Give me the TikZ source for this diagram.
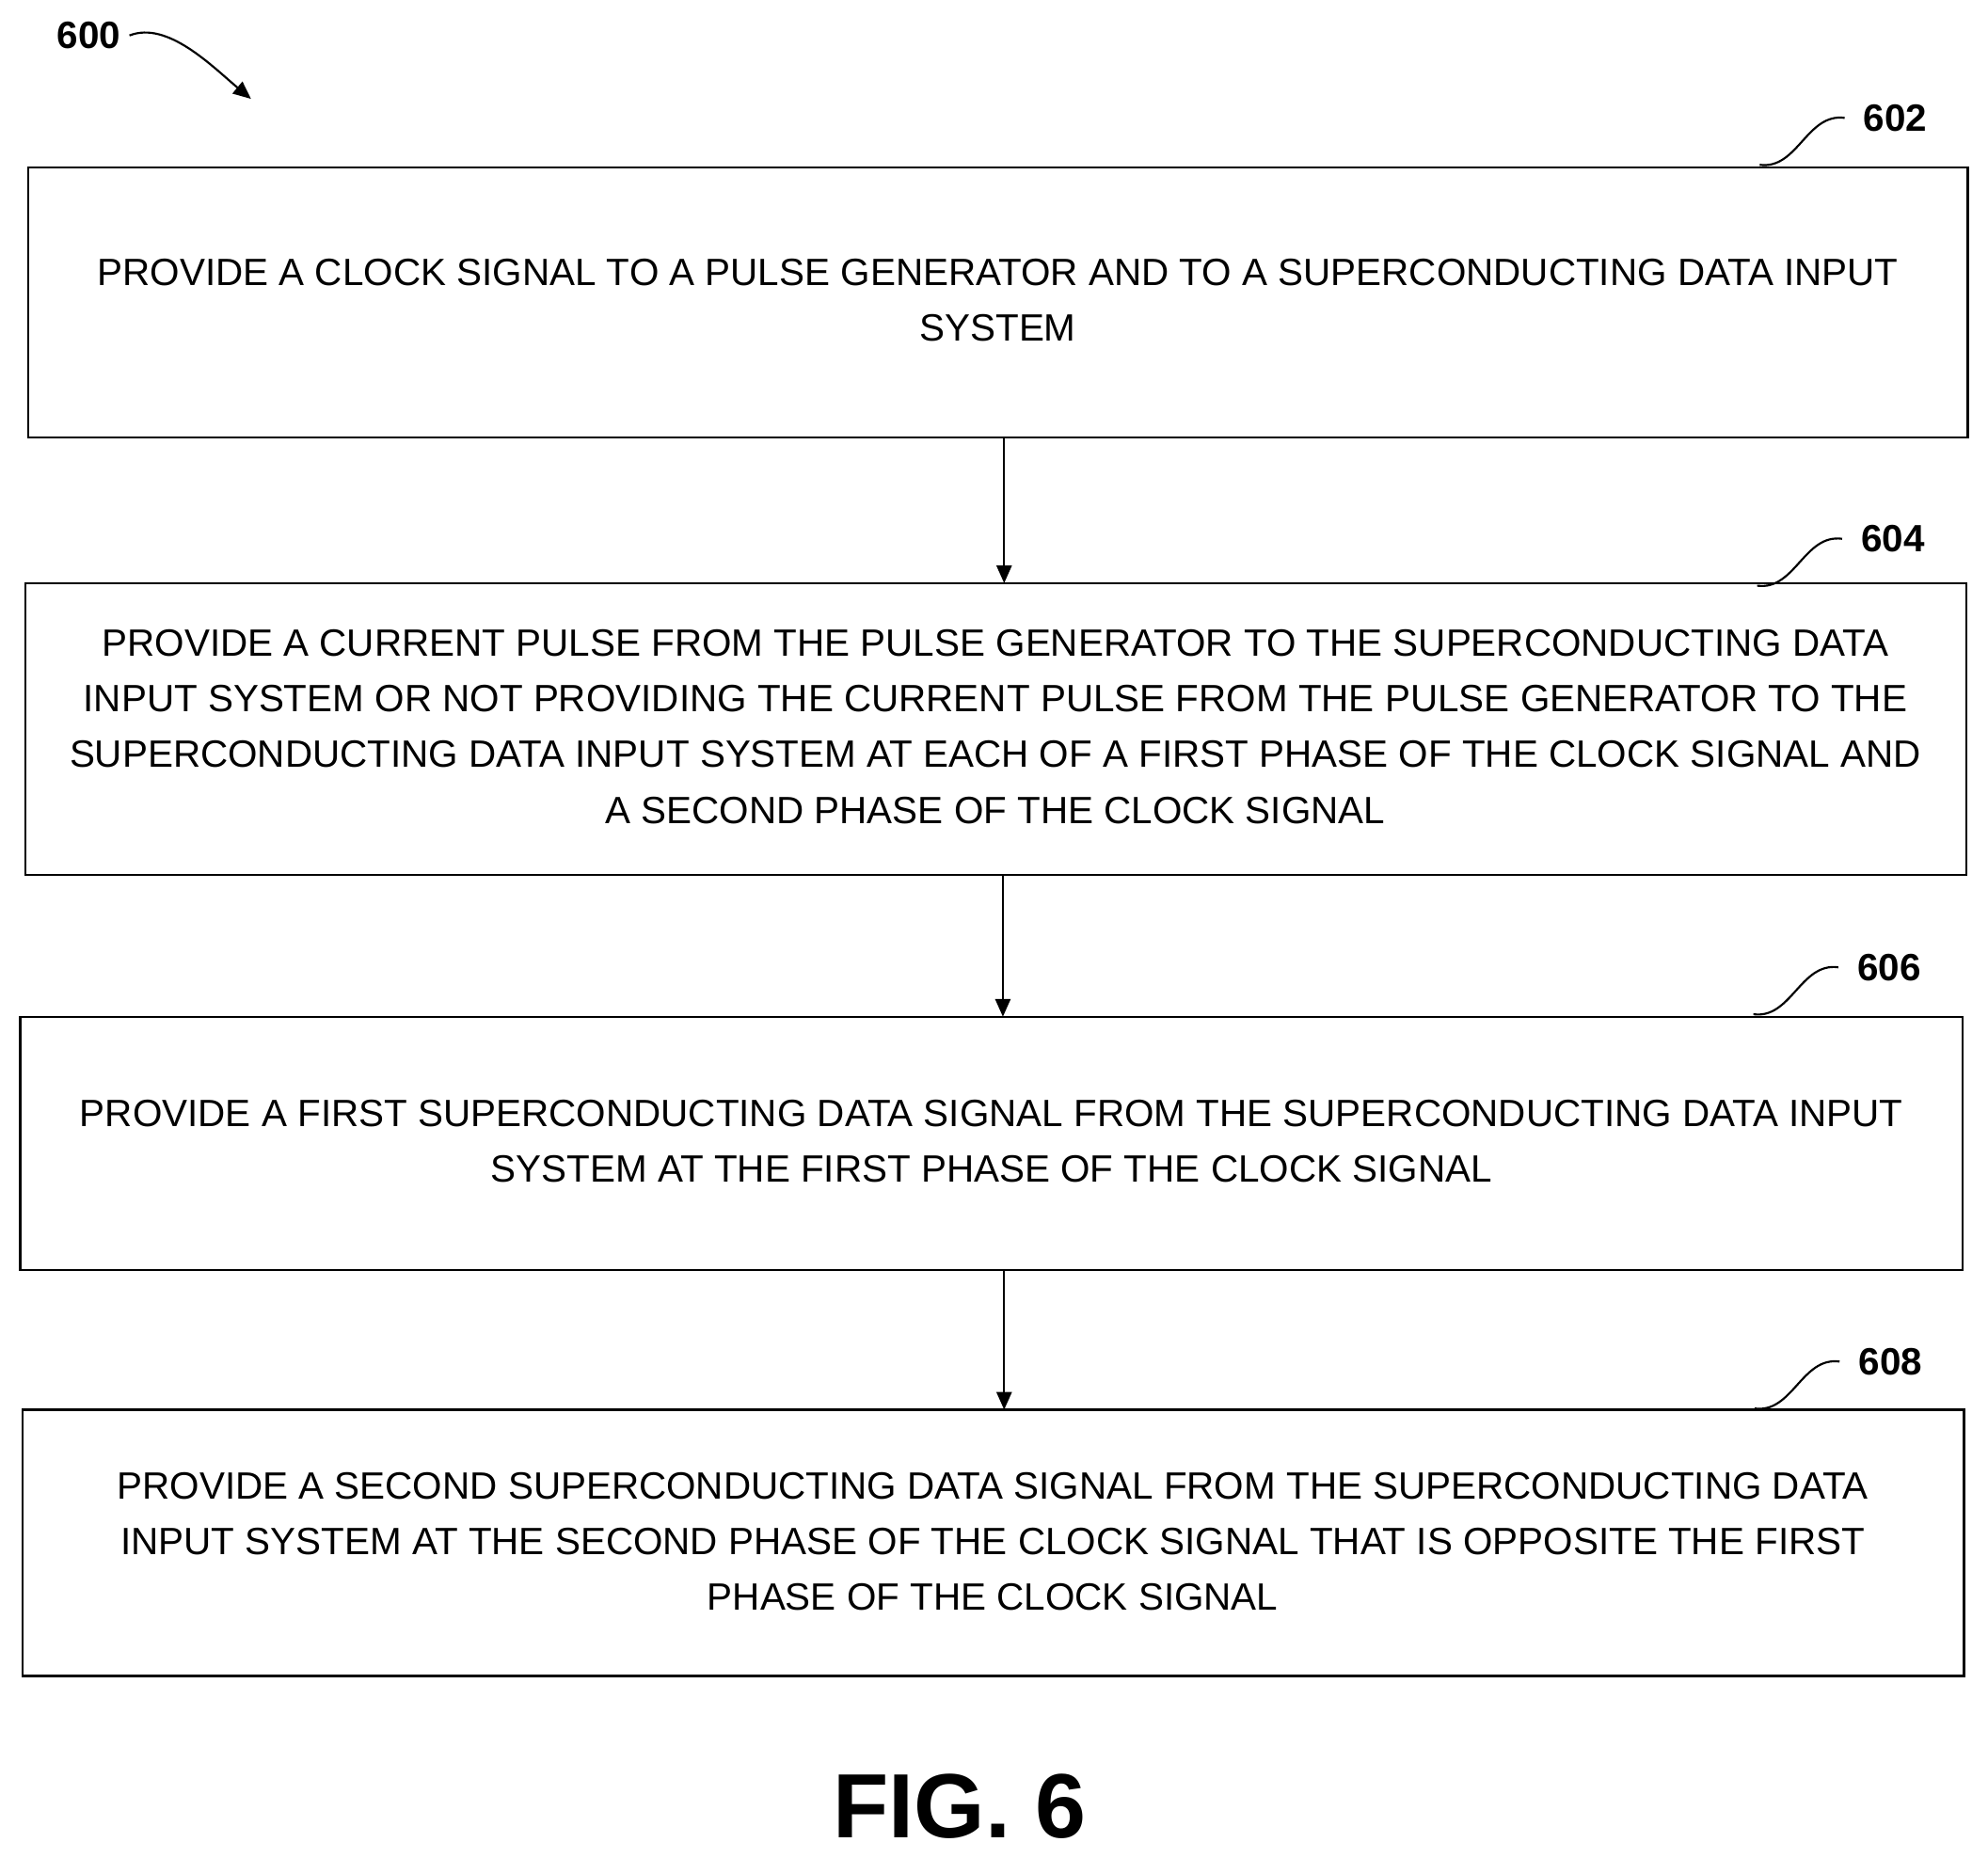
\documentclass[tikz,border=0pt]{standalone}
\usepackage{fontspec}
\setmainfont{Liberation Sans}
\usetikzlibrary{positioning, arrows.meta, calc}

\begin{document}
\begin{tikzpicture}[
x=0.5pt, y=-0.5pt,
stepbox/.style={
rectangle,
align=center,
font=\fontsize{15}{22}\selectfont,
inner sep=0pt
},
ref/.style={font=\bfseries\fontsize{15}{18}\selectfont},
flow/.style={-{Triangle[length=7pt,width=6pt]}, thick}
]
\useasboundingbox (0,0) rectangle (1568,1465);
% boxes
\draw[thick] (22,132) rectangle (1552,345);
\draw[thick] (20,460) rectangle (1551,690);
\draw[thick] (16,802) rectangle (1548,1002);
\draw[thick] (18,1112) rectangle (1549,1322);
\node[stepbox] (s602) at (787,237) {PROVIDE A CLOCK SIGNAL TO A PULSE GENERATOR AND TO A SUPERCONDUCTING DATA INPUT\\SYSTEM};
\node[stepbox] (s604) at (785,573) {PROVIDE A CURRENT PULSE FROM THE PULSE GENERATOR TO THE SUPERCONDUCTING DATA\\INPUT SYSTEM OR NOT PROVIDING THE CURRENT PULSE FROM THE PULSE GENERATOR TO THE\\SUPERCONDUCTING DATA INPUT SYSTEM AT EACH OF A FIRST PHASE OF THE CLOCK SIGNAL AND\\A SECOND PHASE OF THE CLOCK SIGNAL};
\node[stepbox] (s606) at (782,900) {PROVIDE A FIRST SUPERCONDUCTING DATA SIGNAL FROM THE SUPERCONDUCTING DATA INPUT\\SYSTEM AT THE FIRST PHASE OF THE CLOCK SIGNAL};
\node[stepbox] (s608) at (783,1216) {PROVIDE A SECOND SUPERCONDUCTING DATA SIGNAL FROM THE SUPERCONDUCTING DATA\\INPUT SYSTEM AT THE SECOND PHASE OF THE CLOCK SIGNAL THAT IS OPPOSITE THE FIRST\\PHASE OF THE CLOCK SIGNAL};
\coordinate (b602) at (792,345);
\coordinate (t604) at (792,460);
\coordinate (b604) at (791,690);
\coordinate (t606) at (791,802);
\coordinate (b606) at (792,1002);
\coordinate (t608) at (792,1112);
\foreach \i/\j in {b602/t604, b604/t606, b606/t608}
\draw[flow] (\i) -- (\j);
% reference numerals
\foreach \n/\x/\y in {602/1495/93, 604/1493/425, 606/1490/763, 608/1491/1074}{
\node[ref] (r\n) at (\x,\y) {\n};
\draw[thick] ($(r\n.west)+(-8,0)$) .. controls +(-30,-4) and +(30,4) .. ($(r\n.west)+(-75,37)$);
}
\node[ref] (r600) at (70,28) {600};
\coordinate (a600) at (198,78);
\draw[flow] (r600.east) .. controls +(30,-12) and +(-30,-25) .. (a600);
\node[font=\bfseries\fontsize{36}{40}\selectfont] (fig) at (757,1425) {FIG. 6};
\end{tikzpicture}
\end{document}
